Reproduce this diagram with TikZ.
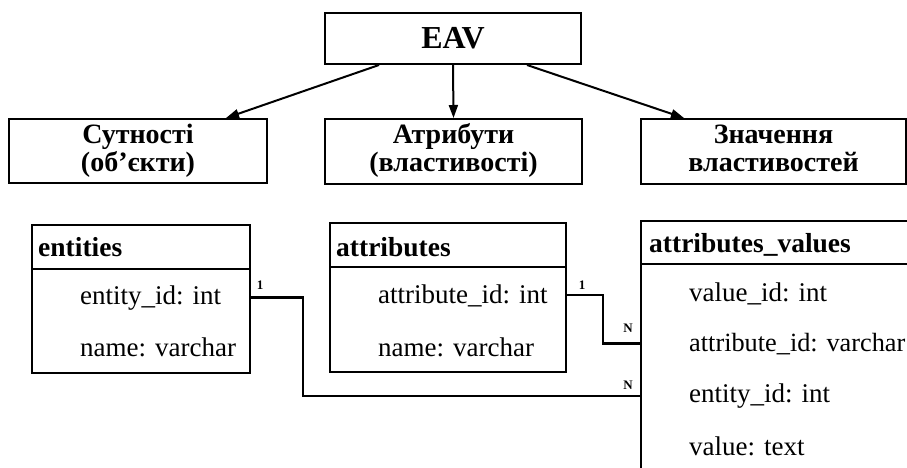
\documentclass[tikz,border=0pt]{standalone}
\usepackage{fontspec}
\setmainfont{Liberation Serif}
\usetikzlibrary{arrows.meta}
\begin{document}
\begin{tikzpicture}[x=1pt,y=-1pt,
  box/.style={draw, line width=2pt, rectangle, inner sep=0pt},
  ttl/.style={box, align=center, font=\fontsize{28}{31}\selectfont\bfseries},
  hdr/.style={anchor=base west, inner sep=0pt, font=\fontsize{27.5}{32}\selectfont\bfseries},
  fld/.style={anchor=base west, inner sep=0pt, font=\fontsize{27}{32}\selectfont},
  card/.style={inner sep=0pt, font=\fontsize{13}{15}\selectfont\bfseries},
  arr/.style={line width=2pt, -{Triangle[length=13pt,width=9pt]}},
  conn/.style={line width=2.2pt}]
\clip (0,0) rectangle (907,467);
\fill[white] (0,0) rectangle (907,467);
% top level
\node[box, minimum width=256pt, minimum height=51pt, font=\fontsize{32}{38}\selectfont\bfseries] (eav) at (453,38.5) {EAV};
\node[ttl, minimum width=258pt, minimum height=64pt] (sut) at (138,151) {\raisebox{-2pt}{\begin{tabular}{@{}c@{}}Сутності\\[-3pt](об’єкти)\end{tabular}}};
\node[ttl, minimum width=257pt, minimum height=65pt] (atr) at (453.5,151.5) {\raisebox{-2pt}{\begin{tabular}{@{}c@{}}Атрибути\\[-3pt](властивості)\end{tabular}}};
\node[ttl, minimum width=265pt, minimum height=65pt] (zn) at (773.5,151.5) {\raisebox{-2pt}{\begin{tabular}{@{}c@{}}Значення\\[-3pt]властивостей\end{tabular}}};
\draw[arr] ([xshift=55pt]eav.south west) -- ([xshift=218pt]sut.north west);
\draw[arr] (eav.south) -- (atr.north);
\draw[arr] ([xshift=203pt]eav.south west) -- ([xshift=44pt]zn.north west);
% tables
\node[box, minimum width=218pt, minimum height=148pt] (ent) at (141,299) {};
\draw[line width=2pt] (ent.west |- 0,269) -- (ent.east |- 0,269);
\node[hdr] (entT) at (38,256) {entities};
\node[fld] (entid) at (80,304) {entity\_id: int};
\node[fld] (entnm) at (80,356) {name: varchar};

\node[box, minimum width=236pt, minimum height=149pt] (att) at (448,297.5) {};
\draw[line width=2pt] (att.west |- 0,267) -- (att.east |- 0,267);
\node[hdr] (attT) at (336,256) {attributes};
\node[fld] (attid) at (378,303) {attribute\_id: int};
\node[fld] (attnm) at (378,356) {name: varchar};

\node[box, minimum width=300pt, minimum height=280pt] (av) at (791,361) {};
\draw[line width=2pt] (av.west |- 0,264) -- (av.east |- 0,264);
\node[hdr] (avT) at (649,252) {attributes\_values};
\node[fld] (avid) at (689,301) {value\_id: int};
\node[fld, font=\fontsize{26.3}{32}\selectfont] (avatt) at (689,351) {attribute\_id: varchar};
\node[fld] (avent) at (689,402.5) {entity\_id: int};
\node[fld] (avval) at (689,455) {value: text};
% connectors
\draw[conn] (ent.east |- entid) -- ++(52pt,0) |- (av.west |- avent);
\draw[conn] (att.east |- attid) -- ++(36pt,0) |- (av.west |- avatt);
\node[card] (c1) at (260,285) {1};
\node[card] (c2) at (582,285) {1};
\node[card] (c3) at (628,328) {N};
\node[card] (c4) at (628,385) {N};
\end{tikzpicture}
\end{document}
